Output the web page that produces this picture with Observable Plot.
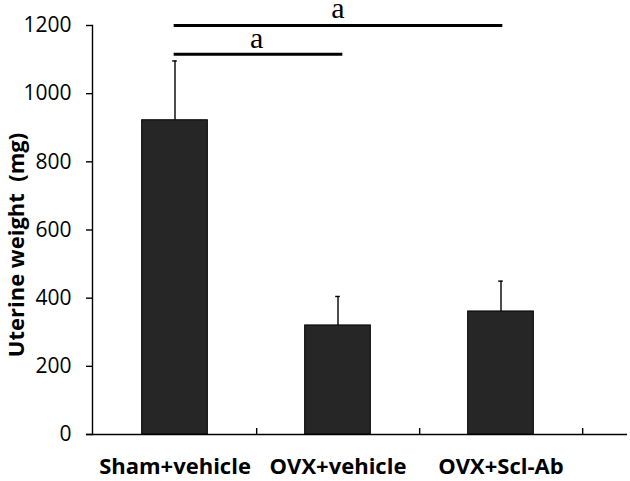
<!DOCTYPE html>
<html>
<head>
<meta charset="utf-8">
<script src="https://cdn.jsdelivr.net/npm/d3@7"></script>
<script src="https://cdn.jsdelivr.net/npm/@observablehq/plot@0.6"></script>
<style>
  html, body { margin: 0; padding: 0; background: #fff; }
  #chart svg { display: block; }
</style>
</head>
<body>
<div id="chart"></div>
<script>
const groups = ["Sham+vehicle", "OVX+vehicle", "OVX+Scl-Ab"];
const means = [922, 320, 361];
const sds = [174, 85, 89];
const yTicks = [0, 200, 400, 600, 800, 1000, 1200];
const yLabel = "Uterine weight  (mg)";
const sigLong = [{from: "Sham+vehicle", to: "OVX+Scl-Ab", mid: "OVX+vehicle", y: 1200, label: "a"}];
const sigShort = [{from: "Sham+vehicle", to: "OVX+vehicle", mid: "Sham+vehicle", y: 1116, label: "a"}];

const data = groups.map((g, i) => ({group: g, mean: means[i], top: means[i] + sds[i]}));

const W = 630, H = 481;
const mL = 92, mR = 48, mT = 25, mB = 47;
const bw = (W - mL - mR) / groups.length;
const barW = 66;
const capW = 5;

const sans = "'Open Sans', sans-serif";
const serif = "'Liberation Serif', 'Times New Roman', serif";

const chart = Plot.plot({
  width: W,
  height: H,
  marginLeft: mL,
  marginRight: mR,
  marginTop: mT,
  marginBottom: mB,
  style: {fontFamily: sans, background: "#fff", color: "#000", overflow: "visible"},
  x: {domain: groups, padding: 0},
  y: {domain: [0, 1200]},
  marks: [
    Plot.frame({anchor: "left", stroke: "#000", strokeWidth: 1.4}),
    Plot.ruleY([0], {stroke: "#000", strokeWidth: 1.4, insetLeft: -6, insetRight: -45}),
    Plot.axisY({ticks: yTicks, tickSize: 6, tickPadding: 15, fontSize: 21, label: null,
      strokeWidth: 1.4, tickFormat: d => String(d)}),
    Plot.axisX({tickSize: -6, dx: bw / 2, tickFormat: () => "", label: null, strokeWidth: 1.4}),
    Plot.axisX({tickSize: 0, tickPadding: 24, fontSize: 22, fontWeight: "bold", label: null}),
    Plot.barY(data, {x: "group", y: "mean", fill: "#262626", stroke: "#000", strokeWidth: 1,
      insetLeft: (bw - barW) / 2, insetRight: (bw - barW) / 2}),
    Plot.ruleX(data, {x: "group", y1: "mean", y2: "top", stroke: "#000", strokeWidth: 1.4}),
    Plot.tickY(data, {x: "group", y: "top", stroke: "#000", strokeWidth: 1.4,
      insetLeft: (bw - capW) / 2, insetRight: (bw - capW) / 2}),
    Plot.ruleY(sigLong, {y: "y", x1: "from", x2: "to", stroke: "#000", strokeWidth: 3,
      insetLeft: bw / 2 - 1, insetRight: bw / 2 - 2}),
    Plot.ruleY(sigShort, {y: "y", x1: "from", x2: "to", stroke: "#000", strokeWidth: 3,
      insetLeft: bw / 2 - 1, insetRight: bw / 2 - 5}),
    Plot.text(sigLong, {x: "mid", y: "y", text: "label", fontFamily: serif, fontSize: 30,
      lineAnchor: "bottom", dy: -8}),
    Plot.text(sigShort, {x: "mid", y: "y", text: "label", fontFamily: serif, fontSize: 30,
      lineAnchor: "bottom", dy: -6, dx: bw / 2}),
    Plot.text([yLabel], {frameAnchor: "left", text: d => d, rotate: -90, dx: -76, dy: 15,
      fontSize: 22, fontWeight: "bold", textAnchor: "middle"})
  ]
});

document.getElementById("chart").append(chart);
</script>
</body>
</html>
